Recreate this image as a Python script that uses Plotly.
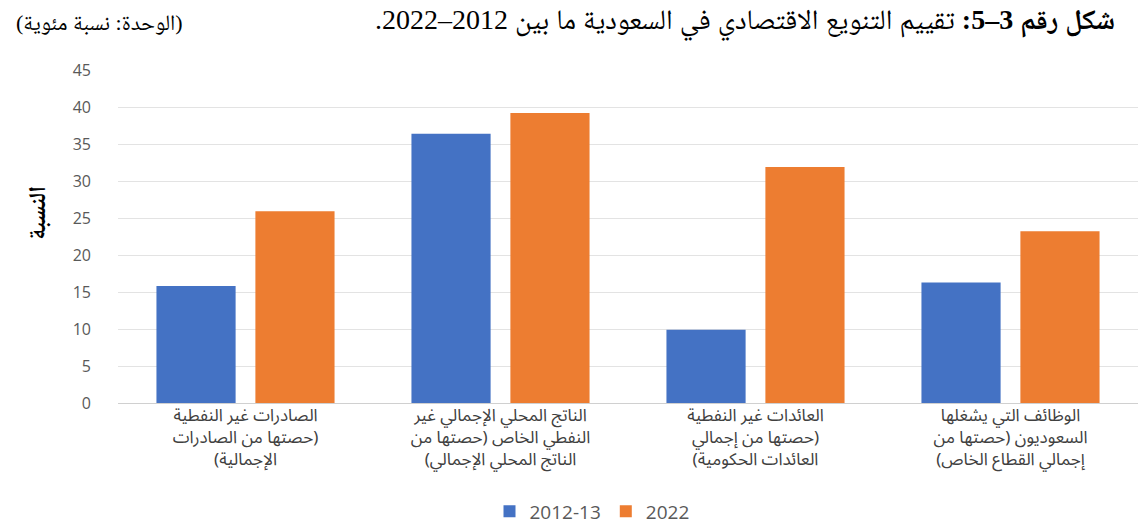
import plotly.graph_objects as go

RLE, PDF = "\u202B", "\u202C"

def rtl(s):
    return "<br>".join(RLE + line + PDF for line in s.split("\n"))

categories = [
    "الصادرات غير النفطية\n(حصتها من الصادرات\nالإجمالية)",
    "الناتج المحلي الإجمالي غير\nالنفطي الخاص (حصتها من\nالناتج المحلي الإجمالي)",
    "العائدات غير النفطية\n(حصتها من إجمالي\nالعائدات الحكومية)",
    "الوظائف التي يشغلها\nالسعوديون (حصتها من\nإجمالي القطاع الخاص)",
]
series_names = ["2012-13", "2022"]
values_2012_13 = [15.8, 36.4, 9.9, 16.3]
values_2022 = [25.9, 39.2, 31.9, 23.2]
y_ticks = [0, 5, 10, 15, 20, 25, 30, 35, 40, 45]

title_bold = "شكل رقم 3–5:"
title_rest = " تقييم التنويع الاقتصادي في السعودية ما بين 2012–2022."
unit_text = "(الوحدة: نسبة مئوية)"
y_title = "النسبة"

cat_labels = [rtl(c) for c in categories]
x_idx = list(range(len(categories)))

fig = go.Figure()
fig.add_trace(go.Bar(x=x_idx, y=values_2012_13, name=series_names[0],
                     marker=dict(color="#4472C4", line=dict(width=0))))
fig.add_trace(go.Bar(x=x_idx, y=values_2022, name=series_names[1],
                     marker=dict(color="#ED7D31", line=dict(width=0))))

L, R, T, B = 118, 1, 70, 124
W, H = 1139, 532
pw, ph = W - L - R, H - T - B

def px(x):
    return (x - L) / pw

def py(y):
    return (H - B - y) / ph

serif = "Liberation Serif, Noto Naskh Arabic, DejaVu Serif, serif"
arab_sans = "Noto Sans Arabic, Arial, DejaVu Sans, sans-serif"

fig.update_layout(
    width=W, height=H,
    margin=dict(l=L, r=R, t=T, b=B),
    paper_bgcolor="white", plot_bgcolor="white",
    barmode="group", bargap=0.224, bargroupgap=0.2,
    showlegend=True,
    legend=dict(orientation="h", x=px(592), y=py(518), xanchor="center", yanchor="middle",
                font=dict(family="Open Sans, DejaVu Sans", size=19, color="#595959"),
                traceorder="normal", itemwidth=30),
    xaxis=dict(tickmode="array", tickvals=x_idx, ticktext=cat_labels,
               range=[-0.5, 3.5], showgrid=False, zeroline=False, showline=False,
               ticks="", tickangle=0,
               tickfont=dict(family=arab_sans, size=17, color="#404040")),
    yaxis=dict(range=[0, 45], tickvals=y_ticks, showgrid=True, gridcolor="#E3E3E3",
               gridwidth=1, zeroline=True, zerolinecolor="#D0D0D0", zerolinewidth=1,
               showline=False, ticks="", ticklabelstandoff=26,
               tickfont=dict(family="Open Sans, DejaVu Sans", size=16, color="#595959")),
    annotations=[
        dict(text=RLE + "<b>" + title_bold + "</b>" + title_rest + PDF,
             xref="paper", yref="paper", x=px(1117), y=py(22), xanchor="right", yanchor="middle",
             showarrow=False, font=dict(family=serif, size=28, color="black")),
        dict(text=RLE + unit_text + PDF,
             xref="paper", yref="paper", x=px(14), y=py(22), xanchor="left", yanchor="middle",
             showarrow=False, font=dict(family=serif, size=22, color="black")),
        dict(text="<b>" + RLE + y_title + PDF + "</b>",
             xref="paper", yref="paper", x=px(38), y=py(215), xanchor="center", yanchor="middle",
             textangle=-90, showarrow=False,
             font=dict(family=serif, size=24, color="black")),
    ],
)

fig.write_html("out.html")
